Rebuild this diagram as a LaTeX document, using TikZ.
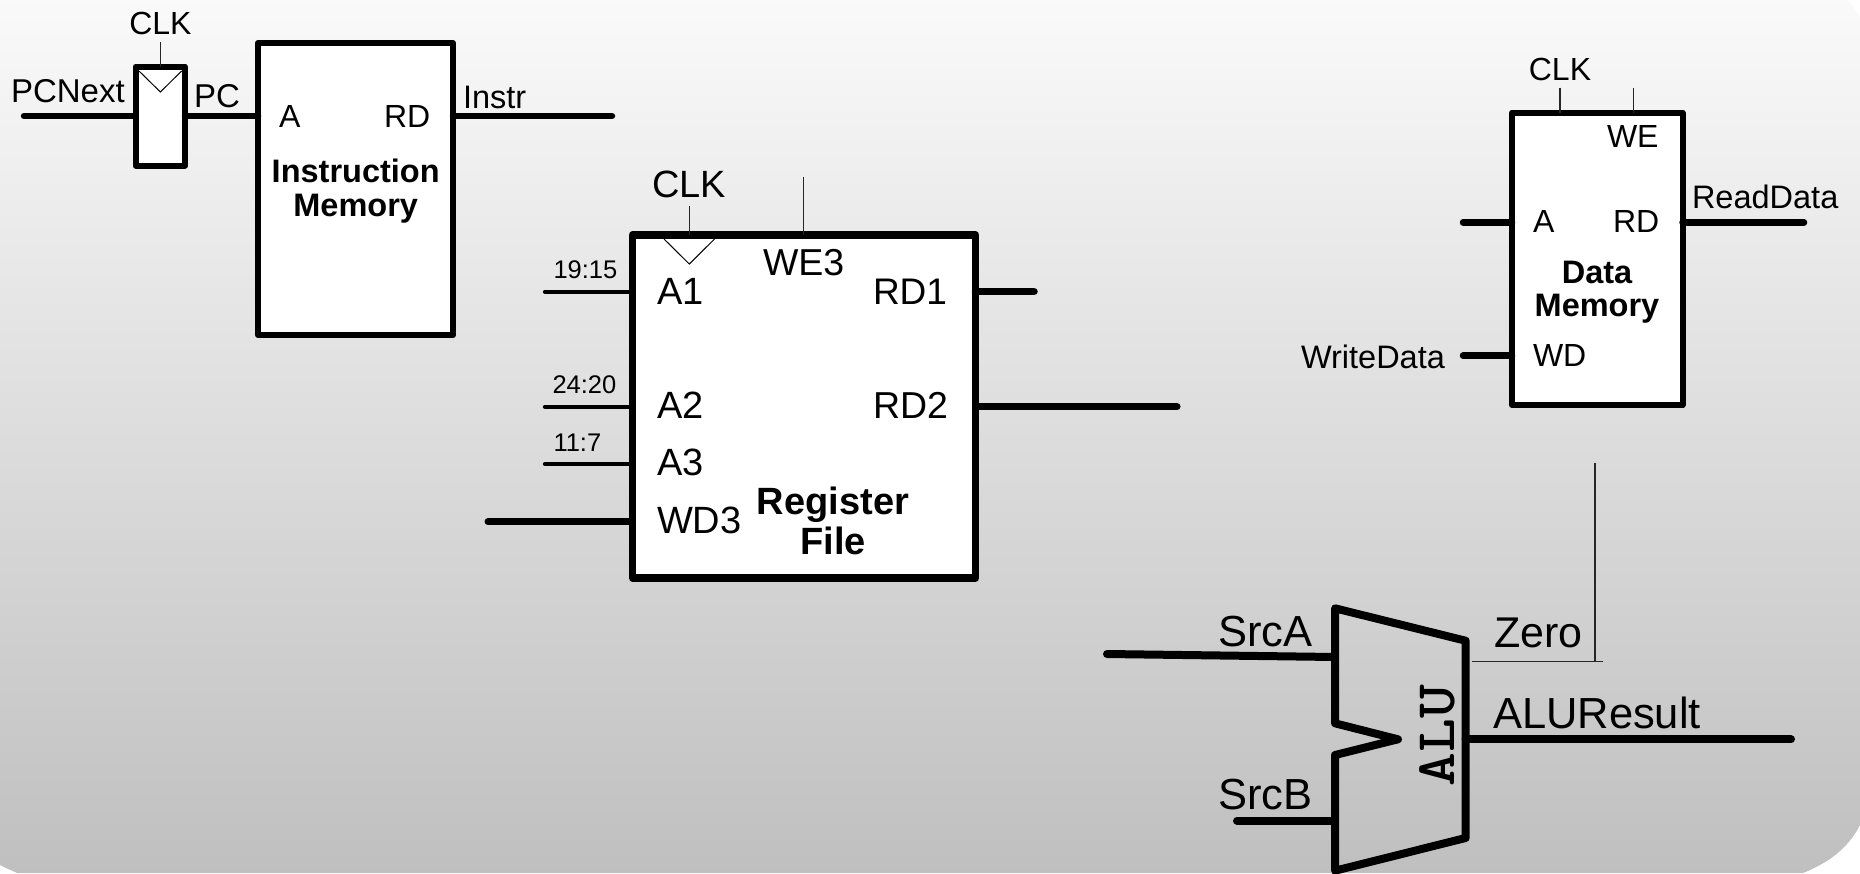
\documentclass[tikz,border=0pt]{standalone}
\usepackage{fontspec}
\setmainfont{Liberation Sans}
\usetikzlibrary{calc}
\newcommand{\fsz}[1]{\fontsize{#1}{#1}\selectfont}
\tikzset{
  every node/.style={inner sep=0pt,outer sep=0pt},
  blockbox/.style={draw=black,fill=white,rectangle,line join=round},
  wire/.style={draw=black,line cap=round},
  thinw/.style={draw=black!85,line width=1.3pt},
  lab/.style={anchor=base west,text=black},
  labc/.style={anchor=base,text=black},
  title/.style={anchor=center,align=center,text=black,font=\bfseries},
}
\begin{document}
\begin{tikzpicture}[x=1pt,y=-1pt]
\useasboundingbox (0,0) rectangle (1860,873);
% background panel
\begin{scope}
\clip (0,865) .. controls (5,868) and (11,870) .. (17,873) -- (1803,873)
  .. controls (1830,862) and (1848,848) .. (1860,825) -- (1860,17)
  .. controls (1856,11) and (1852,5) .. (1848,0) -- (0,0) -- cycle;
\shade[top color=white!98!black,bottom color=white!75!black] (0,0) rectangle (1860,873);
\end{scope}

% ---------- boxes
\node[blockbox,line width=6pt,minimum width=49.5pt,minimum height=99pt] (pcreg) at (160.25,116) {};
\node[blockbox,line width=6pt,minimum width=195pt,minimum height=292pt] (imem) at (355.5,189) {};
\node[blockbox,line width=7.5pt,minimum width=343pt,minimum height=343pt] (rf) at (804,406.5) {};
\node[blockbox,line width=6pt,minimum width=170.5pt,minimum height=292.5pt] (dmem) at (1597.25,258.75) {};

% ---------- free ends
\coordinate (pcnextS) at (24,116);
\coordinate (instrE) at (612,116);
\coordinate (clkA) at (160.4,42);
\coordinate (a1S) at (545,291.7);
\coordinate (a2S) at (545,406.7);
\coordinate (a3S) at (545,464);
\coordinate (wd3S) at (488,521.7);
\coordinate (rd1E) at (1034,291.7);
\coordinate (rd2E) at (1177,406.7);
\coordinate (clkB) at (689.3,206);
\coordinate (weB) at (803.8,177);
\coordinate (clkC) at (1560,87.7);
\coordinate (weC) at (1633.3,87.7);
\coordinate (dmaS) at (1463,222.3);
\coordinate (dmwS) at (1463,355.7);
\coordinate (rdE) at (1804,222.3);
\coordinate (srcaS) at (1107,654);
\coordinate (srcaE) at (1335,657);
\coordinate (srcbS) at (1237,820.7);
\coordinate (srcbE) at (1335,820.7);
\coordinate (resS) at (1465.6,739.3);
\coordinate (resE) at (1791,739.3);
\coordinate (zeroS) at (1472,661.7);
\coordinate (zeroE) at (1603.4,661.7);
\coordinate (zeroV) at (1595,462.7);
\coordinate (zeroJ) at (1595,661.7);

% ---------- wires
\draw[wire,line width=6.5pt] (pcnextS) -- (pcnextS -| pcreg.west);
\draw[wire,line width=6.5pt] (pcnextS -| pcreg.east) -- (pcnextS -| imem.west);
\draw[wire,line width=6.5pt] (instrE -| imem.east) -- (instrE);
\draw[thinw] (clkA) -- (clkA |- pcreg.north);
\draw[wire,line width=4.3pt] (a1S) -- (a1S -| rf.west);
\draw[wire,line width=4.3pt] (a2S) -- (a2S -| rf.west);
\draw[wire,line width=4.3pt] (a3S) -- (a3S -| rf.west);
\draw[wire,line width=7pt] (wd3S) -- (wd3S -| rf.west);
\draw[wire,line width=7.5pt] (rd1E -| rf.east) -- (rd1E);
\draw[wire,line width=7pt] (rd2E -| rf.east) -- (rd2E);
\draw[thinw] (clkB) -- (clkB |- rf.north);
\draw[thinw] (weB) -- (weB |- rf.north);
\draw[thinw] (clkC) -- (clkC |- dmem.north);
\draw[thinw] (weC) -- (weC |- dmem.north);
\draw[wire,line width=6.5pt] (dmaS) -- (dmaS -| dmem.west);
\draw[wire,line width=6.5pt] (dmwS) -- (dmwS -| dmem.west);
\draw[wire,line width=6.5pt] (rdE -| dmem.east) -- (rdE);
\draw[wire,line width=8pt] (srcaS) -- (srcaE);
\draw[wire,line width=8pt] (srcbS) -- (srcbE);
\draw[wire,line width=8pt] (resS) -- (resE);
\draw[thinw] (zeroS) -- (zeroE);
\draw[thinw] (zeroV) -- (zeroJ);

% ---------- clock triangles
\draw[draw=black,line width=1pt] (139,71) -- (160.4,92) -- (181.6,71);
\draw[draw=black,line width=1pt] (664,239) -- (689.3,264) -- (714.5,239);

% ---------- ALU
\draw[draw=black,line width=8pt,line join=round] (1335,608.3) -- (1465.6,640.7) -- (1465.6,838) -- (1335,870.7) -- (1335,755) -- (1398,739.3) -- (1335,723.3) -- cycle;

% ---------- labels: register / instruction memory
\node[labc,font=\fsz{32}] (lclka) at (160.4,34) {CLK};
\node[lab,font=\fsz{33}] (lpcnext) at (11,102) {PCNext};
\node[lab,font=\fsz{33}] (lpc) at (194,107) {PC};
\node[lab,font=\fsz{32}] (lia) at (279,127) {A};
\node[lab,font=\fsz{32}] (lird) at (384,127) {RD};
\node[lab,font=\fsz{32.5}] (linstr) at (463,108) {Instr};
\node[title,font=\bfseries\fontsize{32.5}{34}\selectfont] (limem) at (355.7,191) {Instruction\\Memory};

% ---------- labels: register file
\node[labc,font=\fsz{38}] (lclkb) at (689,197) {CLK};
\node[lab,font=\fsz{37.5}] (lwe3) at (763,275) {WE3};
\node[lab,font=\fsz{25.5}] (l1915) at (553.5,278) {19:15};
\node[lab,font=\fsz{25.5}] (l2420) at (552.5,393) {24:20};
\node[lab,font=\fsz{25.5}] (l117) at (553.5,451) {11:7};
\node[lab,font=\fsz{38}] (la1) at (657,304) {A1};
\node[lab,font=\fsz{38}] (la2) at (657,418) {A2};
\node[lab,font=\fsz{38}] (la3) at (657,475) {A3};
\node[lab,font=\fsz{38}] (lwd3) at (657,533) {WD3};
\node[lab,font=\fsz{37}] (lrd1) at (873,304) {RD1};
\node[lab,font=\fsz{37.5}] (lrd2) at (873,418) {RD2};
\node[title,font=\bfseries\fontsize{38}{40}\selectfont] (lrf) at (833,521) {Register\\File};

% ---------- labels: data memory
\node[labc,font=\fsz{32}] (lclkc) at (1560,80) {CLK};
\node[lab,font=\fsz{32}] (lwe) at (1607,147) {WE};
\node[lab,font=\fsz{32}] (lda) at (1533,232) {A};
\node[lab,font=\fsz{32}] (ldrd) at (1613,232) {RD};
\node[lab,font=\fsz{32.5}] (lrdata) at (1692,208) {ReadData};
\node[title,font=\bfseries\fontsize{32.5}{33}\selectfont] (ldm) at (1597,292) {Data\\Memory};
\node[lab,font=\fsz{32}] (lwd) at (1533,366) {WD};
\node[lab,font=\fsz{32.5}] (lwdata) at (1301,368) {WriteData};

% ---------- labels: ALU
\node[lab,font=\fsz{43.5}] (lsrca) at (1218,646) {SrcA};
\node[lab,font=\fsz{43.5}] (lsrcb) at (1218,809) {SrcB};
\node[lab,font=\fsz{43}] (lzero) at (1494,647) {Zero};
\node[lab,font=\fsz{43.5}] (lres) at (1493,728) {ALUResult};
\node[rotate=90,anchor=base,font=\ttfamily\bfseries\fsz{56}] (lalu) at (1454,735.5) {\scalebox{1.15}[1]{ALU}};
\end{tikzpicture}
\end{document}
